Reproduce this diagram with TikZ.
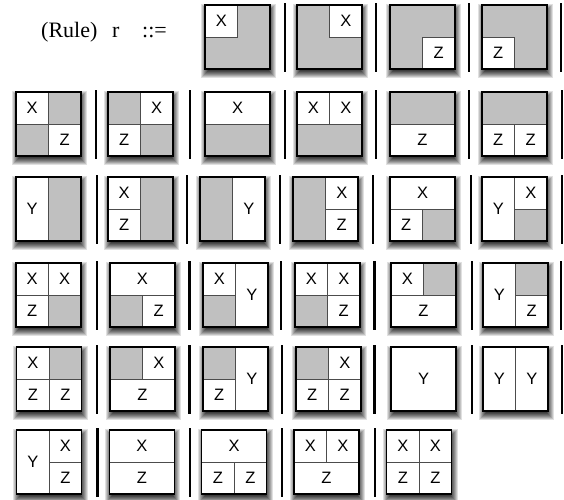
\documentclass[tikz,border=0pt]{standalone}
\usepackage{fontspec}
\setmainfont{Liberation Serif}
\newfontfamily\labfont{Liberation Sans}
\definecolor{cellgray}{RGB}{192,192,192}
\tikzset{
 outerline/.style={draw=black, line width=1.3pt},
 cellline/.style={draw=black!70, line width=0.8pt},
 lab/.style={font=\labfont\fontsize{16.5}{16.5}\selectfont, inner sep=0pt},
 barline/.style={line width=2.4pt, black},
 titletext/.style={font=\fontsize{22}{22}\selectfont, inner sep=0pt, anchor=base west},
}
\newcommand\wcell[6]{%
 \draw[cellline, fill=white] (#1,#2) rectangle (#3,#4);
 \node[lab] (\curbox-#6) at ({(#1+#3)/2},{(#2+#4)/2}) {#5};}
\newcommand\cTL[1]{\wcell{0}{0}{.5}{.5}{#1}{TL}}
\newcommand\cTR[1]{\wcell{.5}{0}{1}{.5}{#1}{TR}}
\newcommand\cBL[1]{\wcell{0}{.5}{.5}{1}{#1}{BL}}
\newcommand\cBR[1]{\wcell{.5}{.5}{1}{1}{#1}{BR}}
\newcommand\cT[1]{\wcell{0}{0}{1}{.5}{#1}{T}}
\newcommand\cB[1]{\wcell{0}{.5}{1}{1}{#1}{B}}
\newcommand\cL[1]{\wcell{0}{0}{.5}{1}{#1}{L}}
\newcommand\cR[1]{\wcell{.5}{0}{1}{1}{#1}{R}}
\newcommand\cF[1]{\wcell{0}{0}{1}{1}{#1}{F}}
% shadow layer in box-local pt coordinates (y downward)
\newcommand\shlayer[2]{% grow colour
 \fill[black!#2] (3-#1,6-#1) rectangle (64+#1,66+#1);}
\newcommand\mkbox[4]{%
 \begin{scope}[shift={(#1,#2)}]
  \shlayer{7}{12}\shlayer{6}{24}\shlayer{5}{35}\shlayer{4}{45}%
  \shlayer{3}{54}\shlayer{2}{62}\shlayer{1}{70}\shlayer{0}{76}%
 \end{scope}
 \begin{scope}[shift={(#1,#2)}, x=65pt, y=-64pt]
  \def\curbox{#3}
  \fill[cellgray] (0,0) rectangle (1,1);
  #4
  \draw[outerline] (0,0) rectangle (1,1);
 \end{scope}}
\newcommand\bars[2]{\foreach \bx in {#2} \draw[barline] (\bx,{#1-2}) -- (\bx,{#1+67});}
\begin{document}
\begin{tikzpicture}[x=1pt,y=-1pt]
\fill[white] (0,0) rectangle (564,499);
\useasboundingbox (0,0) rectangle (564,499);
% title
\node[titletext] (rule) at (41,37) {(Rule)};
\node[titletext] (rr) at (112,37) {r};
\node[titletext] (def) at (142,37) {::=};
% row 1
\mkbox{205}{5}{a1}{\cTL{X}}
\mkbox{297}{5}{a2}{\cTR{X}}
\mkbox{390}{5}{a3}{\cBR{Z}}
\mkbox{482}{5}{a4}{\cBL{Z}}
\bars{5}{285,376,469,561}
% row 2
\mkbox{16}{92}{b1}{\cTL{X}\cBR{Z}}
\mkbox{108}{92}{b2}{\cTR{X}\cBL{Z}}
\mkbox{205}{92}{b3}{\cT{X}}
\mkbox{297}{92}{b4}{\cTL{X}\cTR{X}}
\mkbox{390}{92}{b5}{\cB{Z}}
\mkbox{482}{92}{b6}{\cBL{Z}\cBR{Z}}
\bars{92}{96,190,285,376,469,562}
% row 3
\mkbox{16}{177}{c1}{\cL{Y}}
\mkbox{108}{177}{c2}{\cTL{X}\cBL{Z}}
\mkbox{200}{177}{c3}{\cR{Y}}
\mkbox{293}{177}{c4}{\cTR{X}\cBR{Z}}
\mkbox{390}{177}{c5}{\cT{X}\cBL{Z}}
\mkbox{482}{177}{c6}{\cL{Y}\cTR{X}}
\bars{177}{96.7,187,280,373,470.7,561.7}
% row 4
\mkbox{16}{263}{d1}{\cTL{X}\cTR{X}\cBL{Z}}
\mkbox{110}{263}{d2}{\cT{X}\cBR{Z}}
\mkbox{203}{263}{d3}{\cTL{X}\cR{Y}}
\mkbox{295}{263}{d4}{\cTL{X}\cTR{X}\cBR{Z}}
\mkbox{391}{263}{d5}{\cTL{X}\cB{Z}}
\mkbox{483}{263}{d6}{\cL{Y}\cBR{Z}}
\bars{263}{96.7,189.3,281,374.3,471.7,561}
% row 5
\mkbox{16.7}{347}{e1}{\cTL{X}\cBL{Z}\cBR{Z}}
\mkbox{110}{347}{e2}{\cTR{X}\cB{Z}}
\mkbox{203}{347}{e3}{\cBL{Z}\cR{Y}}
\mkbox{296}{347}{e4}{\cTR{X}\cBL{Z}\cBR{Z}}
\mkbox{391}{347}{e5}{\cF{Y}}
\mkbox{483}{347}{e6}{\cL{Y}\cR{Y}}
\bars{347}{96.7,189.3,281.7,374.3,471.7,562}
% row 6
\mkbox{16.7}{430}{f1}{\cL{Y}\cTR{X}\cBR{Z}}
\mkbox{109.3}{430}{f2}{\cT{X}\cB{Z}}
\mkbox{201.7}{430}{f3}{\cT{X}\cBL{Z}\cBR{Z}}
\mkbox{294}{430}{f4}{\cTL{X}\cTR{X}\cB{Z}}
\mkbox{386.7}{430}{f5}{\cTL{X}\cTR{X}\cBL{Z}\cBR{Z}}
\bars{430}{97.3,190,281.7,375}
\end{tikzpicture}
\end{document}
